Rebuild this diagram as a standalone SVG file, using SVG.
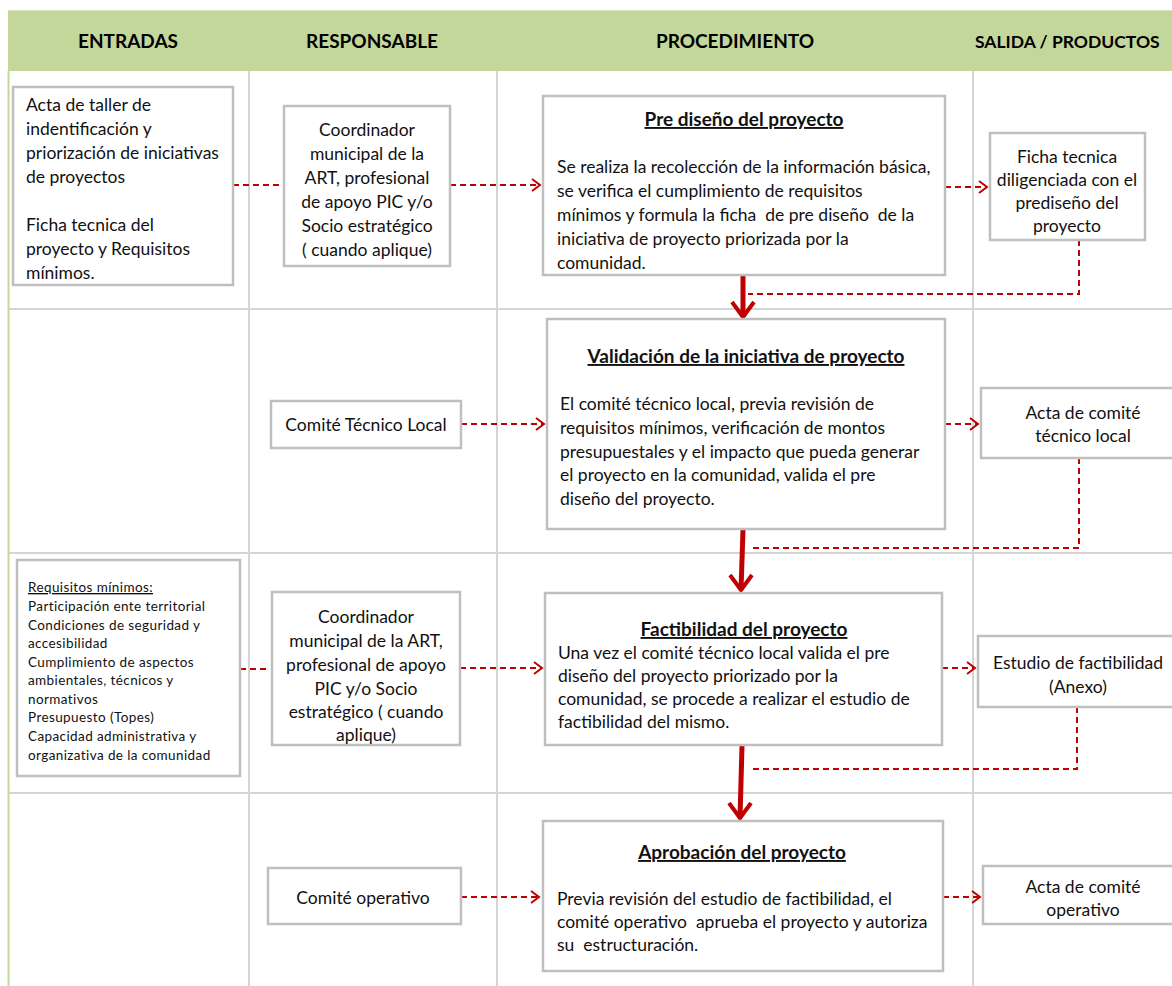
<svg xmlns="http://www.w3.org/2000/svg" width="1172" height="986" viewBox="0 0 1172 986">
<defs>
<style>
.grid{stroke:#D4D4D4;stroke-width:2;fill:none}
.box{fill:#fff;stroke:#BFBFBF;stroke-width:2.5}
.t{font-family:Lato,"Liberation Sans",sans-serif;font-size:17.5px;fill:#111}
.c{text-anchor:middle}
.h{font-family:Lato,"Liberation Sans",sans-serif;font-size:19px;font-weight:bold;fill:#000}
.ti{font-family:Lato,"Liberation Sans",sans-serif;font-size:19px;font-weight:bold;text-anchor:middle;text-decoration:underline;fill:#111}
.s{font-family:Lato,"Liberation Sans",sans-serif;font-size:13.5px;letter-spacing:0.4px;fill:#111}
.d{stroke:#C00000;stroke-width:2;stroke-dasharray:6,4;fill:none}
.thick{stroke:#C00000;stroke-width:5;fill:none}
.head{stroke:#C00000;stroke-width:4;fill:none;stroke-linejoin:miter}
</style>
<marker id="ah" markerUnits="userSpaceOnUse" markerWidth="12" markerHeight="14" refX="9" refY="7" orient="auto">
<path d="M1,1 L9,7 L1,13" fill="none" stroke="#C00000" stroke-width="2"/>
</marker>
</defs>
<rect width="1172" height="986" fill="#fff"/>
<g id="table">
<rect x="8" y="10" width="1164" height="61" fill="#C4D79B"/>
<line x1="8" y1="10.5" x2="1172" y2="10.5" stroke="#D8E4BC" stroke-width="1"/>
<line x1="8.5" y1="71" x2="8.5" y2="986" stroke="#C4D79B" stroke-width="2"/>
<line class="grid" x1="249" y1="71" x2="249" y2="986"/>
<line class="grid" x1="497" y1="71" x2="497" y2="986"/>
<line class="grid" x1="973" y1="71" x2="973" y2="986"/>
<line class="grid" x1="9" y1="309" x2="1172" y2="309"/>
<line class="grid" x1="9" y1="553" x2="1172" y2="553"/>
<line class="grid" x1="9" y1="793" x2="1172" y2="793"/>
<text class="h c" x="128" y="48">ENTRADAS</text>
<text class="h c" x="372" y="48">RESPONSABLE</text>
<text class="h c" x="735" y="48">PROCEDIMIENTO</text>
<text class="h" x="975" y="48" style="font-size:17.5px">SALIDA / PRODUCTOS</text>
</g>
<g id="connectors">
<line class="d" x1="233" y1="185" x2="283" y2="185"/>
<line class="d" x1="450" y1="185" x2="540" y2="185" marker-end="url(#ah)"/>
<line class="d" x1="945" y1="187" x2="987" y2="187" marker-end="url(#ah)"/>
<polyline class="d" points="1079,240 1079,294 748,294"/>
<line class="thick" x1="743" y1="276" x2="743" y2="317"/>
<polyline class="head" points="732,302 743,317 754,302"/>
<line class="d" x1="461" y1="424" x2="544" y2="424" marker-end="url(#ah)"/>
<line class="d" x1="945" y1="424" x2="978" y2="424" marker-end="url(#ah)"/>
<polyline class="d" points="1079,458 1079,548 750,548"/>
<line class="thick" x1="743" y1="530" x2="741" y2="590"/>
<polyline class="head" points="730,575 741,590 752,575"/>
<line class="d" x1="240" y1="669" x2="270" y2="669"/>
<line class="d" x1="460" y1="668" x2="542" y2="668" marker-end="url(#ah)"/>
<line class="d" x1="942" y1="668" x2="975" y2="668" marker-end="url(#ah)"/>
<polyline class="d" points="1077,707 1077,769 750,769"/>
<line class="thick" x1="742" y1="746" x2="740" y2="818"/>
<polyline class="head" points="729,803 740,818 751,803"/>
<line class="d" x1="461" y1="897" x2="539" y2="897" marker-end="url(#ah)"/>
<line class="d" x1="943" y1="897" x2="980" y2="897" marker-end="url(#ah)"/>
</g>
<g id="entradas1">
<rect class="box" x="13" y="87" width="220" height="198"/>
<text class="t" x="26" y="111">Acta de taller de</text>
<text class="t" x="26" y="135">indentificación y</text>
<text class="t" x="26" y="159">priorización de iniciativas</text>
<text class="t" x="26" y="183">de proyectos</text>
<text class="t" x="26" y="231">Ficha tecnica del</text>
<text class="t" x="26" y="255">proyecto y Requisitos</text>
<text class="t" x="26" y="279">mínimos.</text>
</g>
<g id="responsable1">
<rect class="box" x="284" y="106" width="166" height="160"/>
<text class="t c" x="367" y="136">Coordinador</text>
<text class="t c" x="367" y="160">municipal de la</text>
<text class="t c" x="367" y="184">ART, profesional</text>
<text class="t c" x="367" y="208">de apoyo PIC y/o</text>
<text class="t c" x="367" y="232">Socio estratégico</text>
<text class="t c" x="367" y="256">( cuando aplique)</text>
</g>
<g id="prediseno">
<rect class="box" x="543" y="96" width="402" height="179"/>
<text class="ti" x="744" y="126">Pre diseño del proyecto</text>
<text class="t" x="557" y="173">Se realiza la recolección de la información básica,</text>
<text class="t" x="557" y="197">se verifica el cumplimiento de requisitos</text>
<text class="t" x="557" y="221" xml:space="preserve">mínimos y formula la ficha  de pre diseño  de la</text>
<text class="t" x="557" y="245">iniciativa de proyecto priorizada por la</text>
<text class="t" x="557" y="269">comunidad.</text>
</g>
<g id="ficha">
<rect class="box" x="990" y="133" width="155" height="107"/>
<text class="t c" x="1067" y="163">Ficha tecnica</text>
<text class="t c" x="1067" y="186">diligenciada con el</text>
<text class="t c" x="1067" y="209">prediseño del</text>
<text class="t c" x="1067" y="232">proyecto</text>
</g>
<g id="comite-tecnico">
<rect class="box" x="271" y="401" width="190" height="47"/>
<text class="t c" x="366" y="431">Comité Técnico Local</text>
</g>
<g id="validacion">
<rect class="box" x="547" y="319" width="398" height="210"/>
<text class="ti" x="746" y="363">Validación de la iniciativa de proyecto</text>
<text class="t" x="560" y="410">El comité técnico local, previa revisión de</text>
<text class="t" x="560" y="434">requisitos mínimos, verificación de montos</text>
<text class="t" x="560" y="458">presupuestales y el impacto que pueda generar</text>
<text class="t" x="560" y="481">el proyecto en la comunidad, valida el pre</text>
<text class="t" x="560" y="505">diseño del proyecto.</text>
</g>
<g id="acta-tecnico">
<rect class="box" x="981" y="388" width="200" height="70"/>
<text class="t c" x="1083" y="419">Acta de comité</text>
<text class="t c" x="1083" y="442">técnico local</text>
</g>
<g id="requisitos">
<rect class="box" x="17" y="560" width="223" height="216"/>
<text class="s" x="28" y="592" text-decoration="underline">Requisitos mínimos:</text>
<text class="s" x="28" y="611">Participación ente territorial</text>
<text class="s" x="28" y="630">Condiciones de seguridad y</text>
<text class="s" x="28" y="648">accesibilidad</text>
<text class="s" x="28" y="667">Cumplimiento de aspectos</text>
<text class="s" x="28" y="685">ambientales, técnicos y</text>
<text class="s" x="28" y="704">normativos</text>
<text class="s" x="28" y="722">Presupuesto (Topes)</text>
<text class="s" x="28" y="741">Capacidad administrativa y</text>
<text class="s" x="28" y="760">organizativa de la comunidad</text>
</g>
<g id="responsable3">
<rect class="box" x="272" y="592" width="188" height="153"/>
<text class="t c" x="366" y="623">Coordinador</text>
<text class="t c" x="366" y="647">municipal de la ART,</text>
<text class="t c" x="366" y="671">profesional de apoyo</text>
<text class="t c" x="366" y="695">PIC y/o Socio</text>
<text class="t c" x="366" y="718">estratégico ( cuando</text>
<text class="t c" x="366" y="741">aplique)</text>
</g>
<g id="factibilidad">
<rect class="box" x="545" y="593" width="397" height="152"/>
<text class="ti" x="744" y="636">Factibilidad del proyecto</text>
<text class="t" x="558" y="659">Una vez el comité técnico local valida el pre</text>
<text class="t" x="558" y="682">diseño del proyecto priorizado por la</text>
<text class="t" x="558" y="705">comunidad, se procede a realizar el estudio de</text>
<text class="t" x="558" y="728">factibilidad del mismo.</text>
</g>
<g id="estudio">
<rect class="box" x="978" y="636" width="200" height="71"/>
<text class="t c" x="1078" y="669">Estudio de factibilidad</text>
<text class="t c" x="1078" y="693">(Anexo)</text>
</g>
<g id="comite-operativo">
<rect class="box" x="268" y="868" width="193" height="56"/>
<text class="t c" x="363" y="904">Comité operativo</text>
</g>
<g id="aprobacion">
<rect class="box" x="543" y="821" width="400" height="150"/>
<text class="ti" x="742" y="859">Aprobación del proyecto</text>
<text class="t" x="557" y="905">Previa revisión del estudio de factibilidad, el</text>
<text class="t" x="557" y="928" xml:space="preserve">comité operativo  aprueba el proyecto y autoriza</text>
<text class="t" x="557" y="951" xml:space="preserve">su  estructuración.</text>
</g>
<g id="acta-operativo">
<rect class="box" x="983" y="866" width="200" height="58"/>
<text class="t c" x="1083" y="893">Acta de comité</text>
<text class="t c" x="1083" y="916">operativo</text>
</g>
</svg>
